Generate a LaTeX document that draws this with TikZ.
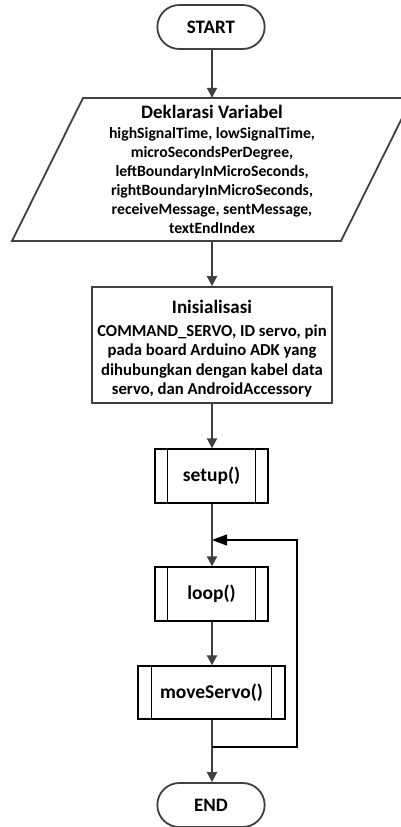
\documentclass[tikz,border=0pt]{standalone}
\usepackage{fontspec}
\setmainfont{Carlito}
\usetikzlibrary{arrows.meta,shapes.misc,calc}

\newcommand\ttlfont{\fontsize{19}{21}\selectfont\bfseries}

\tikzset{
  flow/.style={draw=black!75, line width=1.8pt},
  arr/.style={flow, -{Triangle[length=10pt,width=10pt]}},
  terminal/.style={rounded rectangle, draw=black!75, line width=1.8pt,
    minimum width=114pt, minimum height=44pt, font=\fontsize{19}{21}\selectfont\bfseries},
  procbox/.style={rectangle, draw=black!75, line width=1.8pt},
  subproc/.style={rectangle, draw=black, line width=1.3pt,
    font=\fontsize{19.5}{21}\selectfont\bfseries},
  subline/.style={draw=black, line width=1.3pt},
  decltxt/.style={align=center, inner sep=0pt, font=\fontsize{15.7}{19}\selectfont\bfseries},
  inittxt/.style={align=center, inner sep=0pt, font=\fontsize{16.7}{19.5}\selectfont\bfseries},
}

\begin{document}
\begin{tikzpicture}[x=1pt,y=-1pt]
\useasboundingbox (0,0) rectangle (401,827);
\clip (0,0) rectangle (401,827);
\fill[white] (0,0) rectangle (401,827);

% start terminal
\node[terminal] (start) at (211,27) {START};

% declaration (data) parallelogram
\draw[flow, line join=miter] (83,98) -- (412,98) -- (341,241) -- (12,241) -- cycle;
\node[minimum width=150pt, minimum height=143pt, inner sep=0pt] (decl) at (212,169.5) {};
\node[decltxt] (decltext) at (212,169.5) {{\ttlfont Deklarasi Variabel}\\[1.5pt]
  highSignalTime, lowSignalTime,\\
  microSecondsPerDegree,\\
  leftBoundaryInMicroSeconds,\\
  rightBoundaryInMicroSeconds,\\
  receiveMessage, sentMessage,\\
  textEndIndex};

% initialisation process
\node[procbox, minimum width=240pt, minimum height=116pt] (init) at (212,345) {};
\node[inittxt] (inittext) at (212,348.5) {{\ttlfont Inisialisasi}\\[3.5pt]
  COMMAND\_SERVO, ID servo, pin\\
  pada board Arduino ADK yang\\
  dihubungkan dengan kabel data\\
  servo, dan AndroidAccessory};

% predefined processes
\node[subproc, minimum width=113pt, minimum height=54pt] (setup) at (211.5,476) {setup()};
\node[subproc, minimum width=113pt, minimum height=54pt] (loop) at (211.5,594) {loop()};
\node[subproc, minimum width=147pt, minimum height=53pt] (move) at (211.5,692.5) {moveServo()};
\foreach \n/\d in {setup/13, loop/13, move/14}{
  \draw[subline] ($(\n.north west)+(\d,0)$) -- ($(\n.south west)+(\d,0)$);
  \draw[subline] ($(\n.north east)+(-\d,0)$) -- ($(\n.south east)+(-\d,0)$);
}

% end terminal
\node[terminal] (end) at (211,805) {END};

% connectors
\coordinate (join) at (212,747);
\coordinate (back) at (297,747);
\coordinate (top) at (297,540);
\coordinate (entry) at (212,540);

\draw[arr] (start.south -| decl.north) -- (decl.north);
\draw[arr] (decl.south) -- (init.north -| decl.south);
\draw[arr] (init.south -| join) -- (setup.north -| join);
\draw[arr] (setup.south -| join) -- (loop.north -| join);
\draw[arr] (loop.south -| join) -- (move.north -| join);
\draw[flow] (move.south -| join) -- (join);
\draw[arr] (join) -- (end.north -| join);
\draw[black, line width=1.3pt, -{Triangle[length=15pt,width=11pt]}]
  (join) -- (back) -- (top) -- (entry);
\end{tikzpicture}
\end{document}
